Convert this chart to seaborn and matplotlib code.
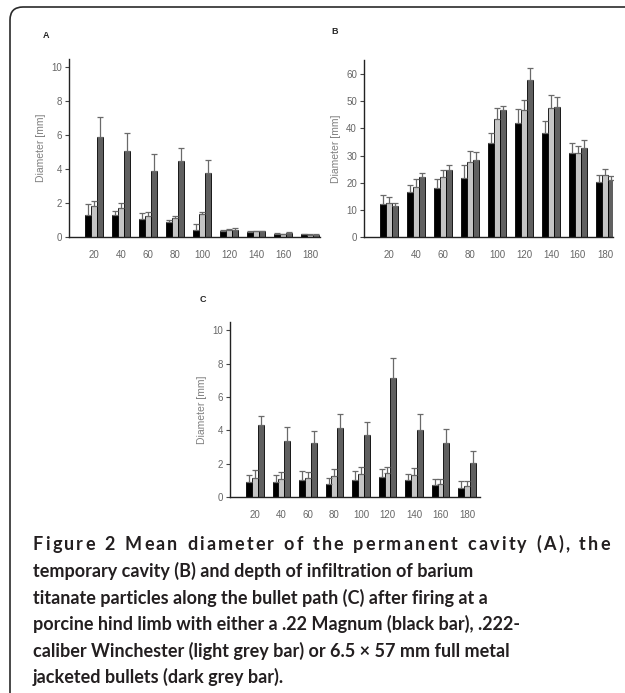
import numpy as np
import pandas as pd
import matplotlib
matplotlib.use("Agg")
import matplotlib.pyplot as plt
import seaborn as sns
from matplotlib.patches import FancyBboxPatch

sns.set_style("white")
plt.rcParams['font.family'] = ['Liberation Sans', 'DejaVu Sans']

# ---- data ----
depths = [20, 40, 60, 80, 100, 120, 140, 160, 180]
bullets = ['.22 Magnum', '.222 Winchester', '6.5 x 57 FMJ']

# A: permanent cavity, mean and SD (mm)
a_mag = [1.31, 1.31, 1.05, 0.86, 0.43, 0.33, 0.30, 0.20, 0.15]
a_mag_sd = [0.62, 0.23, 0.35, 0.16, 0.33, 0.07, 0.05, 0.02, 0.02]
a_win = [1.84, 1.70, 1.25, 1.11, 1.33, 0.40, 0.33, 0.18, 0.14]
a_win_sd = [0.25, 0.29, 0.20, 0.10, 0.13, 0.05, 0.04, 0.02, 0.01]
a_fmj = [5.90, 5.02, 3.90, 4.47, 3.75, 0.42, 0.33, 0.22, 0.14]
a_fmj_sd = [1.17, 1.07, 0.96, 0.74, 0.78, 0.08, 0.05, 0.06, 0.01]

# B: temporary cavity
b_mag = [12.1, 16.5, 18.0, 21.9, 34.5, 42.1, 38.4, 31.1, 20.1]
b_mag_sd = [3.2, 2.5, 3.4, 4.7, 3.9, 4.9, 4.3, 3.7, 2.8]
b_win = [12.5, 18.4, 22.0, 27.8, 43.3, 46.8, 47.5, 30.8, 22.9]
b_win_sd = [2.4, 2.9, 2.6, 3.7, 4.1, 3.5, 4.9, 2.7, 2.1]
b_fmj = [11.3, 22.0, 24.5, 28.5, 46.8, 58.0, 48.0, 32.9, 21.1]
b_fmj_sd = [1.4, 1.7, 2.1, 2.7, 1.5, 4.1, 3.7, 2.8, 1.4]

# C: depth of barium titanate infiltration
c_mag = [0.90, 0.90, 1.00, 0.80, 1.04, 1.20, 1.00, 0.70, 0.56]
c_mag_sd = [0.44, 0.44, 0.56, 0.36, 0.50, 0.50, 0.40, 0.40, 0.38]
c_win = [1.16, 1.10, 1.14, 1.24, 1.36, 1.42, 1.30, 0.80, 0.64]
c_win_sd = [0.44, 0.40, 0.36, 0.46, 0.44, 0.38, 0.46, 0.30, 0.30]
c_fmj = [4.34, 3.38, 3.22, 4.14, 3.74, 7.14, 4.00, 3.22, 2.06]
c_fmj_sd = [0.50, 0.84, 0.72, 0.86, 0.76, 1.22, 1.00, 0.88, 0.70]

colors = ['#000000', '#c4c4c4', '#606060']


def make_df(means, sds):
    rows = []
    for b, m, s in zip(bullets, means, sds):
        for d, mv, sv in zip(depths, m, s):
            rows.append({'depth': d, 'bullet': b, 'mean': mv, 'sd': sv})
    return pd.DataFrame(rows)


def draw_panel(ax, df, ylim, yticks, xlim):
    sns.barplot(data=df, x='depth', y='mean', hue='bullet', hue_order=bullets,
                palette=colors, edgecolor='black', linewidth=0.6,
                errorbar=None, width=0.67, legend=False, ax=ax)
    # upper error bars on each bar
    for patches, b in zip(ax.containers, bullets):
        sub = df[df['bullet'] == b]
        xs = [p.get_x() + p.get_width() / 2 for p in patches]
        hs = [p.get_height() for p in patches]
        ax.errorbar(xs, hs, yerr=[np.zeros(len(hs)), sub['sd'].values],
                    fmt='none', ecolor='#6a6a6a', elinewidth=0.9,
                    capsize=2.2, capthick=0.9)
    ax.set_ylim(*ylim)
    ax.set_xlim(*xlim)
    ax.set_yticks(yticks)
    ax.set_xlabel('')
    ax.set_ylabel('Diameter [mm]', fontsize=7.5, color='#808080', labelpad=4)
    sns.despine(ax=ax)
    for s in ['left', 'bottom']:
        ax.spines[s].set_color('#222222')
        ax.spines[s].set_linewidth(1.0)
    ax.tick_params(axis='y', left=True, length=3, width=0.8, color='#444444',
                   labelsize=7, labelcolor='#666666', pad=2)
    ax.tick_params(axis='x', bottom=False, labelsize=7, labelcolor='#666666', pad=6)


W, H = 625, 693
fig = plt.figure(figsize=(W / 100, H / 100), dpi=100)

axA = fig.add_axes([69 / W, 1 - 237 / H, 251 / W, 178 / H])
draw_panel(axA, make_df([a_mag, a_win, a_fmj], [a_mag_sd, a_win_sd, a_fmj_sd]),
           (0, 10.45), [0, 2, 4, 6, 8, 10], (-0.93, 8.37))

axB = fig.add_axes([364 / W, 1 - 237 / H, 249 / W, 177 / H])
draw_panel(axB, make_df([b_mag, b_win, b_fmj], [b_mag_sd, b_win_sd, b_fmj_sd]),
           (0, 65.2), [0, 10, 20, 30, 40, 50, 60], (-0.93, 8.3))

axC = fig.add_axes([230 / W, 1 - 497 / H, 250 / W, 175 / H])
draw_panel(axC, make_df([c_mag, c_win, c_fmj], [c_mag_sd, c_win_sd, c_fmj_sd]),
           (0, 10.5), [0, 2, 4, 6, 8, 10], (-0.94, 8.49))

# panel letters
for lab, (px, py) in zip(['A', 'B', 'C'], [(46, 36), (335, 31), (203, 300)]):
    fig.text(px / W, 1 - py / H, lab, fontsize=6.5, fontweight='bold',
             ha='center', va='center')

# rounded frame (only top-left corner visible)
frame = FancyBboxPatch((10, -60), 700, H - 7 + 60,
                       boxstyle='round,pad=0,rounding_size=13',
                       transform=None, fill=False, edgecolor='#2a2a2a',
                       linewidth=1.2)
fig.patches.append(frame)

# caption
line1 = 'Figure 2 Mean diameter of the permanent cavity (A), the'
other_lines = [
    'temporary cavity (B) and depth of infiltration of barium',
    'titanate particles along the bullet path (C) after firing at a',
    'porcine hind limb with either a .22 Magnum (black bar), .222-',
    'caliber Winchester (light grey bar) or 6.5 \u00d7 57 mm full metal',
    'jacketed bullets (dark grey bar).',
]
cap_font = dict(family=['Lato', 'DejaVu Sans'], fontweight='bold',
                color='#231f20')
x0, x1 = 33, 610
fig.canvas.draw()
renderer = fig.canvas.get_renderer()

# pick a font size so that line 2 is as wide as in the reference (~437 px)
probe = fig.text(0, 0, other_lines[0], fontsize=12, **cap_font)
fs = 12 * 437 / probe.get_window_extent(renderer).width
probe.remove()

# first line is letter-spaced out to the full width
chars = []
cw = []
for ch in line1:
    t = fig.text(0, 0, ch if ch != ' ' else '\u00a0', fontsize=fs, **cap_font)
    if ch == ' ':
        t.set_text('n')
        w = t.get_window_extent(renderer).width * 0.55
        t.set_text('')
    else:
        w = t.get_window_extent(renderer).width
    chars.append(t)
    cw.append(w)
track = (x1 - x0 - sum(cw)) / (len(chars) - 1)
xpos = x0
for t, w in zip(chars, cw):
    t.set_position((xpos / W, 1 - 550 / H))
    t.set_va('baseline')
    xpos += w + track

for i, line in enumerate(other_lines):
    fig.text(x0 / W, 1 - (577 + i * 26.5) / H, line, va='baseline',
             fontsize=fs, **cap_font)

fig.savefig('out.png', dpi=100)
